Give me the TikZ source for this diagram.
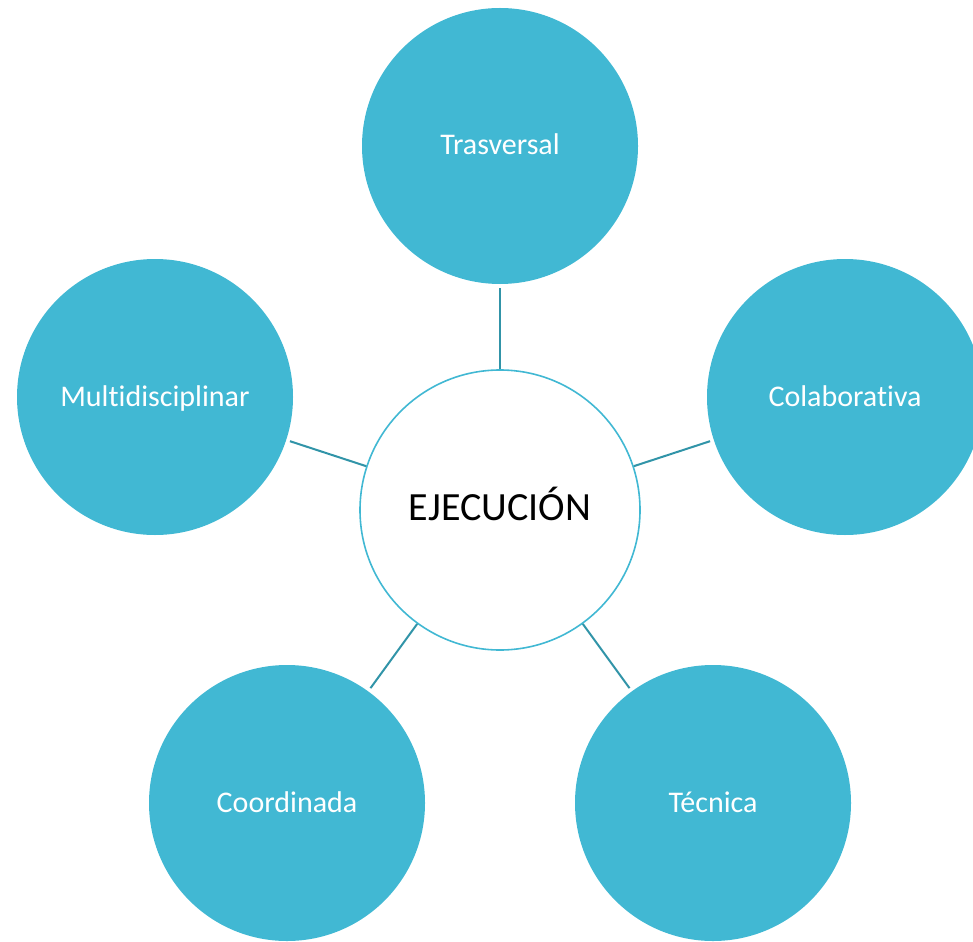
\documentclass[tikz,border=0pt]{standalone}
\usepackage{fontspec}
\setmainfont{Carlito}[RawFeature={-liga;-clig}]
\definecolor{fillc}{HTML}{41B8D3}
\definecolor{linec}{HTML}{3194A8}
\begin{document}
\begin{tikzpicture}[x=1pt,y=-1pt,
  outer/.style={circle,fill=fillc,minimum size=276pt,inner sep=0pt,outer sep=0pt,
    text=white,font=\fontsize{30}{36}\selectfont,text height=18pt,text depth=0pt},
  hub/.style={circle,draw=fillc,line width=1.6pt,fill=white,minimum size=280pt,inner sep=0pt,
    text=black,font=\fontsize{40}{48}\selectfont,text height=20pt,text depth=0pt},
  conn/.style={draw=linec,line width=2pt,shorten >=4pt}]
\useasboundingbox (0,0) rectangle (973,941);
\clip (0,0) rectangle (973,941);
\node[hub] (c) at (500,510) {EJECUCIÓN};
\node[outer] (t) at (500,146) {Trasversal};
\node[outer] (l) at (155,397) {Multidisciplinar};
\node[outer] (r) at (845,397) {Colaborativa};
\node[outer] (bl) at (287,803) {Coordinada};
\node[outer] (br) at (713,803) {Técnica};
\foreach \n in {t,l,r,bl,br} \draw[conn] (c) -- (\n);
\end{tikzpicture}
\end{document}
